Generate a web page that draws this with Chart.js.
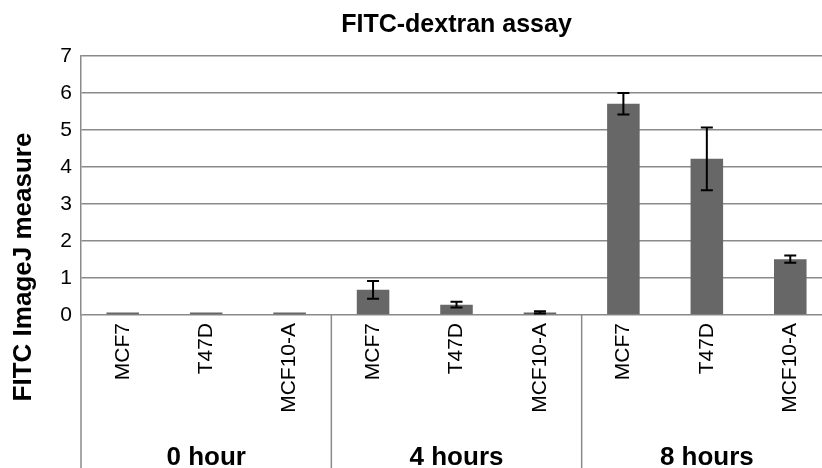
<!DOCTYPE html>
<html>
<head>
<meta charset="utf-8">
<title>FITC-dextran assay</title>
<script src="https://cdn.jsdelivr.net/npm/chart.js@4"></script>
<style>
  html, body { margin: 0; padding: 0; background: #fff; overflow: hidden; }
  #wrap { width: 832px; height: 468px; }
</style>
</head>
<body>
<div id="wrap"><canvas id="fitcChart" width="832" height="468"></canvas></div>
<script>
// data
const cellLines = ["MCF7", "T47D", "MCF10-A"];
const timepoints = ["0 hour", "4 hours", "8 hours"];
const means = [0.07, 0.07, 0.07, 0.68, 0.28, 0.07, 5.71, 4.22, 1.51];
const errs = [0, 0, 0, 0.24, 0.08, 0.03, 0.29, 0.85, 0.10];
const yTicks = [0, 1, 2, 3, 4, 5, 6, 7];

const fontFamily = "'Liberation Sans', Arial, Helvetica, sans-serif";

let labels = [];
timepoints.forEach(function () {
    cellLines.forEach(function (c) { labels.push(c); });
});

// error bars drawn on top of the bars
const errorBars = {
    id: "errorBars",
    afterDatasetsDraw(chart) {
        const ctx = chart.ctx;
        const y = chart.scales.y;
        const meta = chart.getDatasetMeta(0);
        ctx.save();
        ctx.strokeStyle = "#000";
        ctx.lineWidth = 2;
        meta.data.forEach(function (bar, i) {
            const e = errs[i];
            if (!e) return;
            const top = y.getPixelForValue(means[i] + e);
            const bot = y.getPixelForValue(Math.max(0, means[i] - e));
            const cap = 6;
            ctx.beginPath();
            ctx.moveTo(bar.x, top); ctx.lineTo(bar.x, bot);
            ctx.moveTo(bar.x - cap, top); ctx.lineTo(bar.x + cap, top);
            ctx.moveTo(bar.x - cap, bot); ctx.lineTo(bar.x + cap, bot);
            ctx.stroke();
        });
        ctx.restore();
    }
};

// group separators, group labels and the y-axis title
const groupAxis = {
    id: "groupAxis",
    afterDraw(chart) {
        const ctx = chart.ctx;
        const x = chart.scales.x;
        const area = chart.chartArea;
        const n = cellLines.length;
        ctx.save();
        ctx.strokeStyle = "#8a8a8a";
        ctx.lineWidth = 1.5;
        for (let g = 0; g <= timepoints.length; g++) {
            const px = g === 0 ? area.left : (x.getPixelForValue(g * n - 1) + x.getPixelForValue(g * n)) / 2;
            ctx.beginPath();
            ctx.moveTo(px, area.bottom);
            ctx.lineTo(px, chart.height);
            ctx.stroke();
        }
        ctx.fillStyle = "#000";
        ctx.font = "bold 26px " + fontFamily;
        ctx.textAlign = "center";
        ctx.textBaseline = "alphabetic";
        timepoints.forEach(function (t, g) {
            const cx = (x.getPixelForValue(g * n) + x.getPixelForValue(g * n + n - 1)) / 2;
            ctx.fillText(t, cx, 465);
        });
        // y title
        ctx.translate(31, 267);
        ctx.rotate(-Math.PI / 2);
        ctx.fillText("FITC ImageJ measure", 0, 0);
        ctx.restore();
    }
};

new Chart("fitcChart", {
    type: "bar",
    data: {
        labels: labels,
        datasets: [{
            label: "FITC ImageJ measure",
            data: means,
            backgroundColor: "#676767",
            borderWidth: 0,
            barPercentage: 0.39,
            categoryPercentage: 1.0
        }]
    },
    options: {
        responsive: false,
        animation: false,
        devicePixelRatio: 1,
        layout: { padding: 0 },
        plugins: {
            legend: { display: false },
            tooltip: { enabled: false },
            title: {
                display: true,
                text: "FITC-dextran assay",
                fullSize: false,
                color: "#000",
                font: { family: fontFamily, size: 25, weight: "bold", lineHeight: 1.2 },
                padding: { top: 10, bottom: 16 }
            }
        },
        scales: {
            x: {
                grid: { display: false, drawTicks: false },
                border: { display: false },
                ticks: {
                    color: "#000",
                    font: { family: fontFamily, size: 21 },
                    minRotation: 90,
                    maxRotation: 90,
                    autoSkip: false,
                    padding: 8
                },
                afterFit(scale) { scale.height = 153; }
            },
            y: {
                min: 0,
                max: 7,
                afterBuildTicks(scale) { scale.ticks = yTicks.map(function (v) { return { value: v }; }); },
                grid: { color: "#8a8a8a", lineWidth: 1.5, drawTicks: false },
                border: { display: true, color: "#8a8a8a", width: 1.5 },
                ticks: {
                    color: "#000",
                    font: { family: fontFamily, size: 21 },
                    padding: 9
                },
                afterFit(scale) { scale.width = 81; }
            }
        }
    },
    plugins: [errorBars, groupAxis]
});
</script>
</body>
</html>
